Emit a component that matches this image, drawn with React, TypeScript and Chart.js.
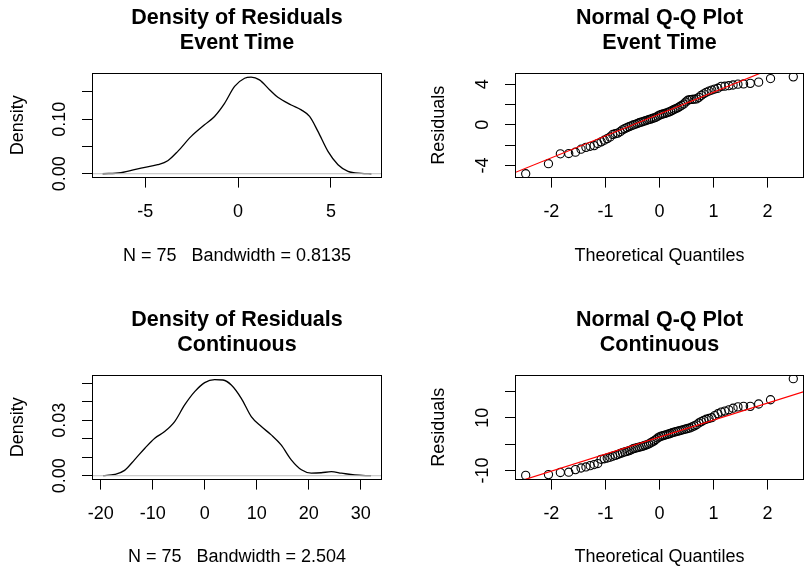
import React, { useEffect, useRef } from 'react';
import { Chart, registerables } from 'chart.js';

Chart.register(...registerables);

const FONT = "'Liberation Sans', Arial, Helvetica, sans-serif";

// ---------- data ----------
// Kernel density of residuals, Event Time (N = 75, bw = 0.8135)
const densityEventX = [-7.30, -6.31, -5.23, -4.33, -3.79, -3.25, -2.54, -1.81, -1.27, -0.73, -0.19, 0.35, 0.70, 1.15, 1.69, 2.14, 2.86, 3.40, 3.85, 4.30, 4.84, 5.38, 5.92, 6.64, 7.18];
const densityEventY = [0, 0.0018, 0.0104, 0.0165, 0.0238, 0.041, 0.068, 0.0897, 0.105, 0.129, 0.160, 0.175, 0.177, 0.172, 0.154, 0.140, 0.126, 0.117, 0.105, 0.0776, 0.041, 0.0165, 0.0044, 0.0007, 0];

// Kernel density of residuals, Continuous (N = 75, bw = 2.504)
const densityContX = [-19.56, -17.3, -15.4, -13.5, -11.5, -9.6, -7.7, -5.77, -3.85, -1.92, 0, 1.92, 3.52, 5.12, 7.04, 8.96, 10.9, 12.8, 14.7, 16.65, 18.6, 20.5, 22.4, 24.35, 26.3, 28.85, 32.0];
const densityContY = [0, 0.0007, 0.0029, 0.0086, 0.0149, 0.0203, 0.0239, 0.0293, 0.0383, 0.0455, 0.0504, 0.052, 0.0518, 0.0491, 0.0419, 0.032, 0.0266, 0.0221, 0.0167, 0.0086, 0.0032, 0.0014, 0.0016, 0.0022, 0.0014, 0.0004, 0];

// Theoretical normal quantiles for n = 75
const theoreticalQuantiles = [-2.475, -2.054, -1.834, -1.679, -1.555, -1.451, -1.361, -1.282, -1.209, -1.142, -1.080, -1.022, -0.967, -0.915, -0.865, -0.818, -0.772, -0.728, -0.685, -0.643, -0.603, -0.563, -0.524, -0.486, -0.449, -0.412, -0.376, -0.341, -0.305, -0.271, -0.236, -0.202, -0.168, -0.134, -0.100, -0.067, -0.033, 0, 0.033, 0.067, 0.100, 0.134, 0.168, 0.202, 0.236, 0.271, 0.305, 0.341, 0.376, 0.412, 0.449, 0.486, 0.524, 0.563, 0.603, 0.643, 0.685, 0.728, 0.772, 0.818, 0.865, 0.915, 0.967, 1.022, 1.080, 1.142, 1.209, 1.282, 1.361, 1.451, 1.555, 1.679, 1.834, 2.054, 2.475];

// Sorted residuals
const residualsEvent = [-4.82, -3.83, -2.86, -2.83, -2.70, -2.40, -2.22, -2.12, -2.05, -1.85, -1.68, -1.52, -1.36, -1.20, -0.95, -0.88, -0.82, -0.68, -0.50, -0.38, -0.28, -0.18, -0.10, -0.02, 0.05, 0.12, 0.20, 0.26, 0.32, 0.38, 0.44, 0.50, 0.56, 0.62, 0.68, 0.74, 0.85, 0.95, 1.02, 1.07, 1.12, 1.18, 1.25, 1.32, 1.42, 1.52, 1.60, 1.68, 1.80, 1.92, 2.05, 2.25, 2.42, 2.48, 2.50, 2.52, 2.55, 2.70, 2.90, 3.05, 3.20, 3.32, 3.42, 3.52, 3.60, 3.78, 3.80, 3.85, 3.92, 4.00, 4.02, 4.08, 4.20, 4.55, 4.72];
const residualsCont = [-11.9, -11.6, -10.8, -10.7, -9.7, -9.1, -8.7, -8.2, -7.8, -7.4, -5.8, -5.6, -5.3, -5.0, -4.6, -4.3, -4.0, -3.6, -3.3, -3.0, -2.8, -2.5, -2.2, -1.8, -1.6, -1.4, -1.2, -1.0, -0.8, -0.5, -0.3, 0.0, 0.4, 0.8, 1.2, 1.7, 2.3, 2.7, 3.0, 3.2, 3.4, 3.6, 3.8, 4.0, 4.3, 4.5, 4.7, 4.9, 5.1, 5.3, 5.5, 5.7, 5.9, 6.1, 6.5, 6.9, 7.3, 8.0, 8.5, 9.0, 9.4, 9.7, 10.0, 10.8, 11.5, 12.1, 12.5, 13.0, 13.6, 14.1, 14.3, 14.3, 15.2, 16.8, 24.8];

// qqline (intercept, slope)
const qqLineEvent = [1.06, 2.155];
const qqLineCont = [2.63, 6.46];

// ticks
const densEventXTicks = [-5, 0, 5];
const densEventYTicks = [0, 0.05, 0.1, 0.15];
const densEventYLabels = ['0.00', '', '0.10', ''];
const densContXTicks = [-20, -10, 0, 10, 20, 30];
const densContYTicks = [0, 0.01, 0.02, 0.03, 0.04, 0.05];
const densContYLabels = ['0.00', '', '', '0.03', '', ''];
const qqXTicks = [-2, -1, 0, 1, 2];
const qqEventYTicks = [-4, -2, 0, 2, 4];
const qqEventYLabels = ['-4', '', '0', '', '4'];
const qqContYTicks = [-10, 0, 10, 20];
const qqContYLabels = ['-10', '', '10', ''];

// ---------- chart helpers ----------
const boxPlugin = {
  id: 'plotBox',
  afterDatasetsDraw(chart: any) {
    const { ctx, chartArea } = chart;
    const l = Math.round(chartArea.left) + 0.5;
    const t = Math.round(chartArea.top) + 0.5;
    const r = Math.round(chartArea.right) - 0.5;
    const b = Math.round(chartArea.bottom) - 0.5;
    ctx.save();
    ctx.strokeStyle = '#000';
    ctx.lineWidth = 1;
    ctx.strokeRect(l, t, r - l, b - t);
    ctx.restore();
  },
};

interface PanelSpec {
  title: string[];
  xTitle: string;
  yTitle: string;
  xMin: number; xMax: number; yMin: number; yMax: number;
  xTicks: number[]; yTicks: number[]; yLabels: string[];
  yWidth: number; yTitlePad: number; yTickPad: number;
  xHeight: number; xTitlePad: number; rightPad: number;
  datasets: any[];
}

function buildConfig(s: PanelSpec): any {
  const tickFont = { family: FONT, size: 18 };
  const grid = { display: true, drawOnChartArea: false, drawTicks: true, tickLength: 10, color: '#000', lineWidth: 1 };
  return {
    type: 'scatter',
    data: { datasets: s.datasets },
    options: {
      animation: false,
      responsive: false,
      devicePixelRatio: 1,
      events: [],
      layout: { autoPadding: false, padding: { left: 0, top: 0, bottom: 0, right: s.rightPad } },
      plugins: {
        legend: { display: false },
        tooltip: { enabled: false },
        title: {
          display: true,
          text: s.title,
          color: '#000',
          fullSize: false,
          font: { family: FONT, size: 21.5, weight: 'bold', lineHeight: 1.2 },
          padding: { top: 4.8, bottom: 16.6 },
        },
      },
      scales: {
        x: {
          type: 'linear',
          min: s.xMin,
          max: s.xMax,
          afterBuildTicks: (sc: any) => { sc.ticks = s.xTicks.map((v) => ({ value: v })); },
          afterFit: (sc: any) => {
            sc.height = s.xHeight;
            sc.paddingLeft = 0; sc.paddingRight = 0; sc.paddingTop = 0; sc.paddingBottom = 0;
          },
          grid,
          border: { display: false },
          ticks: { autoSkip: false, minRotation: 0, maxRotation: 0, padding: 13.2, color: '#000', font: tickFont, callback: (v: number) => String(v) },
          title: { display: true, text: s.xTitle, color: '#000', font: tickFont, padding: { top: 0, bottom: s.xTitlePad } },
        },
        y: {
          type: 'linear',
          min: s.yMin,
          max: s.yMax,
          afterBuildTicks: (sc: any) => { sc.ticks = s.yTicks.map((v) => ({ value: v })); },
          afterFit: (sc: any) => {
            sc.width = s.yWidth;
            sc.paddingLeft = 0; sc.paddingRight = 0; sc.paddingTop = 0; sc.paddingBottom = 0;
          },
          grid,
          border: { display: false },
          ticks: { autoSkip: false, minRotation: 90, maxRotation: 90, crossAlign: 'center', padding: s.yTickPad, color: '#000', font: tickFont, callback: (_v: number, i: number) => s.yLabels[i] },
          title: { display: true, text: s.yTitle, color: '#000', font: tickFont, padding: { top: s.yTitlePad, bottom: 0 } },
        },
      },
    },
    plugins: [boxPlugin],
  };
}

function densitySets(xs: number[], ys: number[], xMin: number, xMax: number) {
  return [
    { data: [{ x: xMin, y: 0 }, { x: xMax, y: 0 }], showLine: true, borderColor: '#bebebe', borderWidth: 1, pointRadius: 0, order: 0 },
    { data: xs.map((x, i) => ({ x, y: ys[i] })), showLine: true, borderColor: '#000', borderWidth: 1.3, pointRadius: 0, cubicInterpolationMode: 'monotone', order: 1 },
  ];
}

function qqSets(ys: number[], line: number[], xMin: number, xMax: number) {
  return [
    { data: [{ x: xMin, y: line[0] + line[1] * xMin }, { x: xMax, y: line[0] + line[1] * xMax }], showLine: true, borderColor: '#ff0000', borderWidth: 1.2, pointRadius: 0, order: 0 },
    { data: theoreticalQuantiles.map((x, i) => ({ x, y: ys[i] })), showLine: false, pointRadius: 4.1, pointBorderWidth: 1.1, borderWidth: 1.1, borderColor: '#000', backgroundColor: 'rgba(0,0,0,0)', pointBackgroundColor: 'rgba(0,0,0,0)', pointBorderColor: '#000', order: 1 },
  ];
}

const QQ_XMIN = -2.673;
const QQ_XMAX = 2.673;

const panels: { left: number; top: number; width: number; height: number; spec: PanelSpec }[] = [
  {
    left: 0, top: 0, width: 402, height: 285,
    spec: {
      title: ['Density of Residuals', 'Event Time'],
      xTitle: 'N = 75   Bandwidth = 0.8135', yTitle: 'Density',
      xMin: -7.87, xMax: 7.75, yMin: -0.0071, yMax: 0.1846,
      xTicks: densEventXTicks, yTicks: densEventYTicks, yLabels: densEventYLabels,
      yWidth: 92, yTitlePad: 7, yTickPad: 4.8, xHeight: 107.4, xTitlePad: 18.5, rightPad: 20,
      datasets: densitySets(densityEventX, densityEventY, -7.87, 7.75),
    },
  },
  {
    left: 402, top: 0, width: 402, height: 285,
    spec: {
      title: ['Normal Q-Q Plot', 'Event Time'],
      xTitle: 'Theoretical Quantiles', yTitle: 'Residuals',
      xMin: QQ_XMIN, xMax: QQ_XMAX, yMin: -5.2, yMax: 5.1,
      xTicks: qqXTicks, yTicks: qqEventYTicks, yLabels: qqEventYLabels,
      yWidth: 113, yTitlePad: 26.7, yTickPad: 14.3, xHeight: 107.4, xTitlePad: 18.5, rightPad: 0,
      datasets: qqSets(residualsEvent, qqLineEvent, QQ_XMIN, QQ_XMAX),
    },
  },
  {
    left: 0, top: 302, width: 402, height: 269,
    spec: {
      title: ['Density of Residuals', 'Continuous'],
      xTitle: 'N = 75   Bandwidth = 2.504', yTitle: 'Density',
      xMin: -21.67, xMax: 34.1, yMin: -0.0021, yMax: 0.0545,
      xTicks: densContXTicks, yTicks: densContYTicks, yLabels: densContYLabels,
      yWidth: 92, yTitlePad: 7, yTickPad: 4.8, xHeight: 91.4, xTitlePad: 2.8, rightPad: 20,
      datasets: densitySets(densityContX, densityContY, -21.67, 34.1),
    },
  },
  {
    left: 402, top: 302, width: 402, height: 269,
    spec: {
      title: ['Normal Q-Q Plot', 'Continuous'],
      xTitle: 'Theoretical Quantiles', yTitle: 'Residuals',
      xMin: QQ_XMIN, xMax: QQ_XMAX, yMin: -13.5, yMax: 26.2,
      xTicks: qqXTicks, yTicks: qqContYTicks, yLabels: qqContYLabels,
      yWidth: 113, yTitlePad: 26.7, yTickPad: 9.3, xHeight: 91.4, xTitlePad: 2.8, rightPad: 0,
      datasets: qqSets(residualsCont, qqLineCont, QQ_XMIN, QQ_XMAX),
    },
  },
];

function Panel(props: { left: number; top: number; width: number; height: number; spec: PanelSpec }) {
  const ref = useRef<HTMLCanvasElement | null>(null);
  useEffect(() => {
    if (!ref.current) return;
    const chart = new Chart(ref.current, buildConfig(props.spec));
    return () => chart.destroy();
  }, []);
  const { left, top, width, height } = props;
  return (
    <canvas
      ref={ref}
      width={width}
      height={height}
      style={{ position: 'absolute', left, top, width, height, display: 'block' }}
    />
  );
}

export default function App() {
  return (
    <div style={{ position: 'fixed', left: 0, top: 0, width: 804, height: 571, overflow: 'hidden', background: '#fff' }}>
      {panels.map((p, i) => (
        <Panel key={i} {...p} />
      ))}
    </div>
  );
}
